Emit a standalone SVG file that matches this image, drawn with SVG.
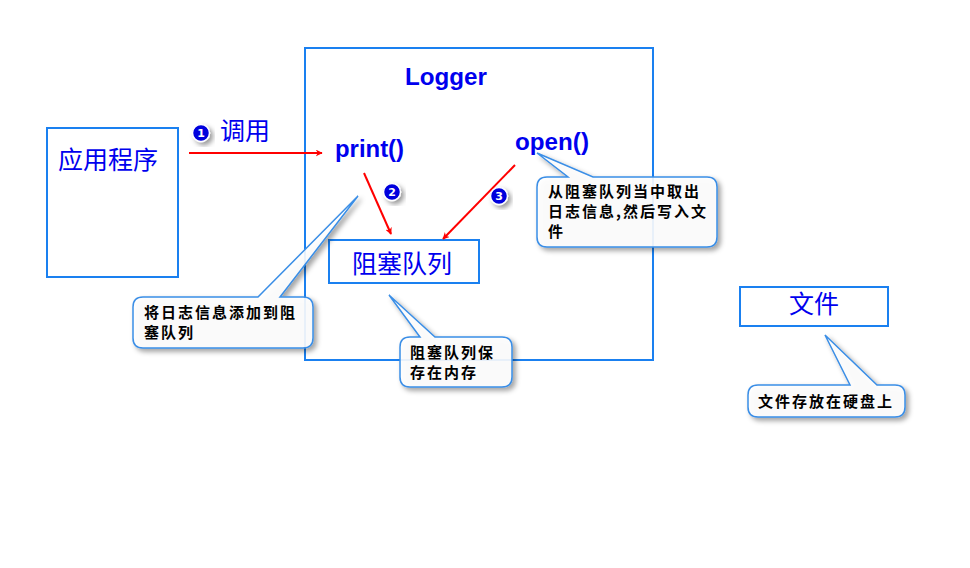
<svg xmlns="http://www.w3.org/2000/svg" width="970" height="568" viewBox="0 0 970 568">
<style>
.box{fill:#fff;stroke:#1a80f0;stroke-width:2}
.big{font-family:"Noto Sans CJK SC",sans-serif;font-size:25px;fill:#0000ee}
.code{font-family:"Liberation Sans",Arial,sans-serif;font-weight:bold;font-size:23px;fill:#0000ee}
.note{font-family:"Noto Sans CJK SC",sans-serif;font-size:15px;font-weight:bold;fill:#000;letter-spacing:2px}
.call{fill:#fff;fill-opacity:0.88;stroke:#3a8ee6;stroke-width:1.5}
.arr{stroke:#ff0000;stroke-width:2;fill:none;marker-end:url(#ah)}
.num{font-family:"DejaVu Sans",sans-serif;font-weight:bold;font-size:11px;fill:#fff;text-anchor:middle}
.dot{fill:#0000dd;stroke:#fff;stroke-width:1.5}
</style>
<defs>
<marker id="ah" viewBox="0 0 10 10" refX="9" refY="5" markerWidth="7" markerHeight="7" orient="auto" markerUnits="userSpaceOnUse">
<path d="M0,0 L10,5 L0,10 L3,5 Z" fill="#ff0000"/>
</marker>
<filter id="sh" x="-20%" y="-20%" width="150%" height="150%">
<feDropShadow dx="3" dy="3" stdDeviation="2.5" flood-color="#000" flood-opacity="0.4"/>
</filter>
<filter id="lsh" x="-5%" y="-200%" width="110%" height="600%">
<feDropShadow dx="0" dy="3" stdDeviation="2" flood-color="#000" flood-opacity="0.35"/>
</filter>
</defs>
<rect width="970" height="568" fill="#fff"/>

<g id="logger">
<rect class="box" x="305" y="48" width="348" height="312"/>
<line x1="307" y1="104" x2="637" y2="104" stroke="#ff0000" stroke-width="2" filter="url(#lsh)"/>
<text class="code" x="405" y="85" textLength="82" lengthAdjust="spacingAndGlyphs">Logger</text>
</g>

<g id="app">
<rect class="box" x="47" y="128" width="131" height="149"/>
<text class="big" x="58" y="169">应用程序</text>
</g>

<g id="print">
<text class="code" x="335" y="157" textLength="69" lengthAdjust="spacingAndGlyphs">print()</text>
</g>
<g id="open">
<text class="code" x="515" y="150" textLength="74" lengthAdjust="spacingAndGlyphs">open()</text>
</g>

<g id="queue">
<rect class="box" x="329" y="240" width="150" height="43"/>
<text class="big" x="352" y="273">阻塞队列</text>
</g>

<g id="file">
<rect class="box" x="740" y="287" width="148" height="39"/>
<text class="big" x="789" y="313">文件</text>
</g>

<g id="connectors">
<line class="arr" x1="189" y1="153" x2="322" y2="153"/>
<line class="arr" x1="364" y1="173" x2="391" y2="234"/>
<line class="arr" x1="515" y1="165" x2="443" y2="239"/>
</g>

<g id="step1">
<circle class="dot" cx="201" cy="133" r="8.5" filter="url(#sh)"/>
<text class="num" x="201" y="137">1</text>
<text class="big" x="220" y="140">调用</text>
</g>
<g id="step2">
<circle class="dot" cx="392" cy="192" r="8.5" filter="url(#sh)"/>
<text class="num" x="392" y="196">2</text>
</g>
<g id="step3">
<circle class="dot" cx="499" cy="196" r="8.5" filter="url(#sh)"/>
<text class="num" x="499" y="200">3</text>
</g>

<g id="note-add">
<path class="call" filter="url(#sh)" d="M143,297 H258 L358,196 L280,297 H303 Q313,297 313,307 V338 Q313,348 303,348 H143 Q133,348 133,338 V307 Q133,297 143,297 Z"/>
<text class="note" x="144" y="318">将日志信息添加到阻</text>
<text class="note" x="144" y="338">塞队列</text>
</g>

<g id="note-open">
<path class="call" filter="url(#sh)" d="M547,177 H568 L537,153 L593,177 H707 Q717,177 717,187 V237 Q717,247 707,247 H547 Q537,247 537,237 V187 Q537,177 547,177 Z"/>
<text class="note" x="548" y="197">从阻塞队列当中取出</text>
<text class="note" x="548" y="217">日志信息,然后写入文</text>
<text class="note" x="548" y="237">件</text>
</g>

<g id="note-mem">
<path class="call" filter="url(#sh)" d="M410,337 H420 L389,295 L435,337 H502 Q512,337 512,347 V377 Q512,387 502,387 H410 Q400,387 400,377 V347 Q400,337 410,337 Z"/>
<text class="note" x="410" y="358">阻塞队列保</text>
<text class="note" x="410" y="378">存在内存</text>
</g>

<g id="note-disk">
<path class="call" filter="url(#sh)" d="M758,385 H850 L825,335 L877,385 H895 Q905,385 905,395 V407 Q905,417 895,417 H758 Q748,417 748,407 V395 Q748,385 758,385 Z"/>
<text class="note" x="758" y="407">文件存放在硬盘上</text>
</g>
</svg>
